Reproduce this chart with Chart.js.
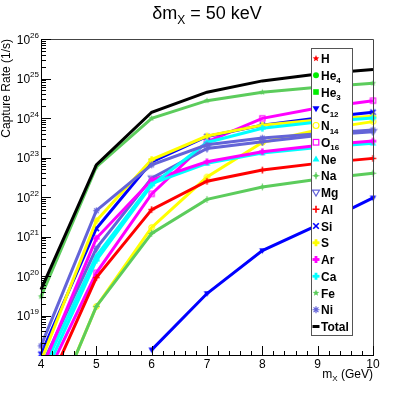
<!DOCTYPE html>
<html>
<head>
<meta charset="utf-8">
<script src="https://cdn.jsdelivr.net/npm/chart.js@4.4.1/dist/chart.umd.min.js"></script>
<style>
  html, body { margin: 0; padding: 0; background: #fff; }
  #wrap { width: 415px; height: 395px; position: relative; }
</style>
</head>
<body>
<div id="wrap"><canvas id="rateChart" width="415" height="395"></canvas></div>
<script>
// dark matter mass (GeV)
const massGeV = [4, 5, 6, 7, 8, 9, 10];
const xTickLabels = ['4', '5', '6', '7', '8', '9', '10'];
const yTickExponents = [19, 20, 21, 22, 23, 24, 25, 26];

// capture rates (1/s) per element, null = not drawn
const rateH     = [null, null, null, null, null, null, null];
const rateHe4   = [null, null, null, null, null, null, null];
const rateHe3   = [null, null, null, null, null, null, null];
const rateC12   = [null, null, 1.35e18, 3.6e19, 4.4e20, 1.95e21, 9.5e21];
const rateN14   = [8e15, 1.7e19, 1.7e21, 3.2e22, 2.4e23, 5.0e23, 8.1e23];
const rateO16   = [1.5e17, 1.2e20, 1.2e22, 2.5e23, 9.8e23, 1.8e24, 2.75e24];
const rateNe    = [3.3e17, 3.2e20, 2.2e22, 7.1e22, 1.3e23, 1.8e23, 2.3e23];
const rateNa    = [7.8e15, 1.7e19, 1.2e21, 8.7e21, 1.8e22, 2.8e22, 4.0e22];
const rateMg    = [4.9e17, 5.0e20, 3.0e22, 1.7e23, 2.5e23, 3.6e23, 4.5e23];
const rateAl    = [6.8e16, 9.1e19, 4.8e21, 2.5e22, 4.8e22, 7.1e22, 9.5e22];
const rateSi    = [1.05e18, 1.6e21, 7.8e22, 3.4e23, 6.6e23, 1.0e24, 1.4e24];
const rateS     = [7e17, 2.5e21, 8.9e22, 3.5e23, 6.6e23, 8.9e23, 1.1e24];
const rateAr    = [4e17, 9e20, 2.7e22, 7.8e22, 1.4e23, 2.0e23, 2.6e23];
const rateCa    = [2e17, 2.5e20, 2.0e22, 2.4e23, 5.5e23, 7.9e23, 1.0e24];
const rateFe    = [3.0e19, 5.8e22, 9.8e23, 2.75e24, 4.5e24, 6.0e24, 7.6e24];
const rateNi    = [1.7e18, 4.5e21, 6.5e22, 2.1e23, 3.1e23, 4.0e23, 5.0e23];
const rateTotal = [4.5e19, 6.5e22, 1.4e24, 4.5e24, 8.7e24, 1.3e25, 1.7e25];

const RED = '#ff0000', GREEN = '#00ee00', LGREEN = '#5ccc5c', BLUE = '#0000ff',
      YELLOW = '#ffff00', MAGENTA = '#ff00ff', CYAN = '#00ffff', PURPLE = '#6464d8';

// name, subscript, values, colour, marker
const series = [
  ['H', '', rateH, RED, 'star5'],
  ['He', '4', rateHe4, GREEN, 'circle'],
  ['He', '3', rateHe3, GREEN, 'square'],
  ['C', '12', rateC12, BLUE, 'triDown'],
  ['N', '14', rateN14, YELLOW, 'circleOpen'],
  ['O', '16', rateO16, MAGENTA, 'squareOpen'],
  ['Ne', '', rateNe, CYAN, 'triUp'],
  ['Na', '', rateNa, LGREEN, 'diamond'],
  ['Mg', '', rateMg, PURPLE, 'triDownOpen'],
  ['Al', '', rateAl, RED, 'plus'],
  ['Si', '', rateSi, BLUE, 'cross'],
  ['S', '', rateS, YELLOW, 'plusThick'],
  ['Ar', '', rateAr, MAGENTA, 'plusThick'],
  ['Ca', '', rateCa, CYAN, 'plusThick'],
  ['Fe', '', rateFe, LGREEN, 'star5'],
  ['Ni', '', rateNi, PURPLE, 'asterisk'],
  ['Total', '', rateTotal, '#000000', 'line']
];

const FONT = '"Liberation Sans", Arial, Helvetica, sans-serif';

function drawMarker(ctx, kind, cx, cy, r, color) {
  ctx.save();
  ctx.fillStyle = color;
  ctx.strokeStyle = color;
  ctx.lineWidth = 1.2;
  ctx.beginPath();
  if (kind === 'star5') {
    for (let i = 0; i < 10; i++) {
      const a = -Math.PI / 2 + i * Math.PI / 5;
      const rr = i % 2 ? r * 0.45 : r;
      ctx.lineTo(cx + rr * Math.cos(a), cy + rr * Math.sin(a));
    }
    ctx.closePath(); ctx.fill();
  } else if (kind === 'circle') {
    ctx.arc(cx, cy, r * 0.85, 0, Math.PI * 2); ctx.fill();
  } else if (kind === 'square') {
    ctx.fillRect(cx - r * 0.8, cy - r * 0.8, r * 1.6, r * 1.6);
  } else if (kind === 'triDown' || kind === 'triDownOpen' || kind === 'triUp') {
    const s = kind === 'triUp' ? -1 : 1;
    ctx.moveTo(cx - r, cy - s * r * 0.7);
    ctx.lineTo(cx + r, cy - s * r * 0.7);
    ctx.lineTo(cx, cy + s * r);
    ctx.closePath();
    if (kind === 'triDownOpen') ctx.stroke(); else ctx.fill();
  } else if (kind === 'circleOpen') {
    ctx.arc(cx, cy, r * 0.85, 0, Math.PI * 2); ctx.stroke();
  } else if (kind === 'squareOpen') {
    ctx.strokeRect(cx - r * 0.8, cy - r * 0.8, r * 1.6, r * 1.6);
  } else if (kind === 'diamond') {
    ctx.moveTo(cx - r, cy); ctx.lineTo(cx + r, cy);
    ctx.moveTo(cx, cy - r); ctx.lineTo(cx, cy + r);
    ctx.moveTo(cx - r * 0.5, cy); ctx.lineTo(cx, cy - r * 0.5);
    ctx.lineTo(cx + r * 0.5, cy); ctx.lineTo(cx, cy + r * 0.5); ctx.closePath();
    ctx.stroke();
  } else if (kind === 'plus') {
    ctx.lineWidth = 1.6;
    ctx.moveTo(cx - r, cy); ctx.lineTo(cx + r, cy);
    ctx.moveTo(cx, cy - r); ctx.lineTo(cx, cy + r);
    ctx.stroke();
  } else if (kind === 'cross') {
    ctx.lineWidth = 1.6;
    ctx.moveTo(cx - r * 0.8, cy - r * 0.8); ctx.lineTo(cx + r * 0.8, cy + r * 0.8);
    ctx.moveTo(cx + r * 0.8, cy - r * 0.8); ctx.lineTo(cx - r * 0.8, cy + r * 0.8);
    ctx.stroke();
  } else if (kind === 'plusThick') {
    const w = r * 0.4;
    ctx.fillRect(cx - r, cy - w, 2 * r, 2 * w);
    ctx.fillRect(cx - w, cy - r, 2 * w, 2 * r);
  } else if (kind === 'asterisk') {
    ctx.lineWidth = 1.2;
    ctx.moveTo(cx - r, cy); ctx.lineTo(cx + r, cy);
    ctx.moveTo(cx, cy - r); ctx.lineTo(cx, cy + r);
    ctx.moveTo(cx - r * 0.7, cy - r * 0.7); ctx.lineTo(cx + r * 0.7, cy + r * 0.7);
    ctx.moveTo(cx + r * 0.7, cy - r * 0.7); ctx.lineTo(cx - r * 0.7, cy + r * 0.7);
    ctx.stroke();
  } else if (kind === 'line') {
    ctx.lineWidth = 3;
    ctx.moveTo(cx - r, cy); ctx.lineTo(cx + r, cy); ctx.stroke();
  }
  ctx.restore();
}

function markerImage(kind, color) {
  const c = document.createElement('canvas');
  c.width = 9; c.height = 9;
  if (kind !== 'line') drawMarker(c.getContext('2d'), kind, 4.5, 4.5, 3.2, color);
  return c;
}

// text with optional subscript / superscript pieces
function drawRich(ctx, parts, x, y, align) {
  let w = 0;
  parts.forEach(p => { ctx.font = p.font; w += ctx.measureText(p.t).width; });
  let cx = align === 'right' ? x - w : align === 'center' ? x - w / 2 : x;
  parts.forEach(p => {
    ctx.font = p.font;
    ctx.fillText(p.t, cx, y + (p.dy || 0));
    cx += ctx.measureText(p.t).width;
  });
}

const rootFrame = {
  id: 'rootFrame',
  afterDraw(chart) {
    const { ctx, chartArea: a, scales: { x, y } } = chart;
    ctx.save();
    ctx.textBaseline = 'alphabetic';
    ctx.fillStyle = '#000';

    // frame
    ctx.lineWidth = 1;
    ctx.strokeStyle = '#444';
    ctx.beginPath();
    ctx.moveTo(a.left, a.top + 0.5); ctx.lineTo(a.right + 0.5, a.top + 0.5);
    ctx.lineTo(a.right + 0.5, a.bottom);
    ctx.stroke();
    ctx.strokeStyle = '#000';
    ctx.beginPath();
    ctx.moveTo(a.left + 0.5, a.top); ctx.lineTo(a.left + 0.5, a.bottom + 0.5);
    ctx.lineTo(a.right + 1, a.bottom + 0.5);
    ctx.stroke();

    // y ticks (log)
    ctx.beginPath();
    for (let d = 18; d <= 26; d++) {
      const py = Math.round(y.getPixelForValue(Math.pow(10, d))) + 0.5;
      ctx.moveTo(a.left, py); ctx.lineTo(a.left + 10, py);
      if (d === 26) break;
      for (let k = 2; k <= 9; k++) {
        const my = Math.round(y.getPixelForValue(k * Math.pow(10, d))) + 0.5;
        ctx.moveTo(a.left, my); ctx.lineTo(a.left + 5, my);
      }
    }
    // x ticks
    for (let v = 4; v <= 10.001; v += 0.2) {
      const px = Math.round(x.getPixelForValue(v)) + 0.5;
      const major = Math.abs(v - Math.round(v)) < 0.01;
      ctx.moveTo(px, a.bottom); ctx.lineTo(px, a.bottom - (major ? 9 : 4));
    }
    ctx.stroke();

    // tick labels
    ctx.textAlign = 'center';
    ctx.font = '12px ' + FONT;
    massGeV.forEach((m, i) => {
      ctx.fillText(xTickLabels[i], x.getPixelForValue(m), a.bottom + 13);
    });
    ctx.textAlign = 'left';
    yTickExponents.forEach(e => {
      const py = y.getPixelForValue(Math.pow(10, e));
      drawRich(ctx, [
        { t: '10', font: '12px ' + FONT, dy: 4.5 },
        { t: String(e), font: '8px ' + FONT, dy: -1.5 }
      ], a.left - 2, py, 'right');
    });

    // axis titles
    drawRich(ctx, [
      { t: 'm', font: '12px ' + FONT },
      { t: 'X', font: '8px ' + FONT, dy: 3 },
      { t: ' (GeV)', font: '12px ' + FONT }
    ], a.right, 378, 'right');

    ctx.save();
    ctx.translate(10, a.top);
    ctx.rotate(-Math.PI / 2);
    ctx.textAlign = 'right';
    ctx.font = '12px ' + FONT;
    ctx.fillText('Capture Rate (1/s)', 0, 0);
    ctx.restore();

    // title
    ctx.textAlign = 'left';
    drawRich(ctx, [
      { t: 'δm', font: '18px ' + FONT },
      { t: 'X', font: '12px ' + FONT, dy: 5 },
      { t: ' = 50 keV', font: '18px ' + FONT }
    ], 207, 19, 'center');

    // legend
    const lx = 311.5, ly = 48.5, lw = 41, lh = 287;
    ctx.fillStyle = '#fff';
    ctx.fillRect(lx, ly, lw, lh);
    ctx.strokeStyle = '#555';
    ctx.lineWidth = 1;
    ctx.strokeRect(lx, ly, lw, lh);
    series.forEach((s, i) => {
      const cy = 58.5 + i * 16.75;
      drawMarker(ctx, s[4], 316, cy, 3.5, s[3]);
      ctx.fillStyle = '#000';
      const parts = [{ t: s[0], font: 'bold 12px ' + FONT, dy: 4.5 }];
      if (s[1]) parts.push({ t: s[1], font: 'bold 8px ' + FONT, dy: 8 });
      drawRich(ctx, parts, 321, cy, 'left');
    });
    ctx.restore();
  }
};

const datasets = series.map((s, i) => ({
  label: s[0] + s[1],
  data: massGeV.map((m, j) => ({ x: m, y: s[2][j] })),
  borderColor: s[3],
  backgroundColor: s[3],
  borderWidth: 3,
  pointStyle: markerImage(s[4], s[3]),
  pointRadius: s[4] === 'line' ? 0 : 4,
  tension: 0,
  spanGaps: false,
  order: series.length - i,
  clip: { left: 6, right: 6, top: 0, bottom: 1 }
}));

new Chart(document.getElementById('rateChart'), {
  type: 'line',
  data: { datasets },
  options: {
    responsive: false,
    animation: false,
    devicePixelRatio: 1,
    layout: { padding: { left: 41, right: 42, top: 39, bottom: 40 } },
    scales: {
      x: { type: 'linear', min: 4, max: 10, display: false },
      y: { type: 'logarithmic', min: 1e18, max: 1e26, display: false }
    },
    plugins: {
      legend: { display: false },
      tooltip: { enabled: false },
      title: { display: false }
    }
  },
  plugins: [rootFrame]
});
</script>
</body>
</html>
